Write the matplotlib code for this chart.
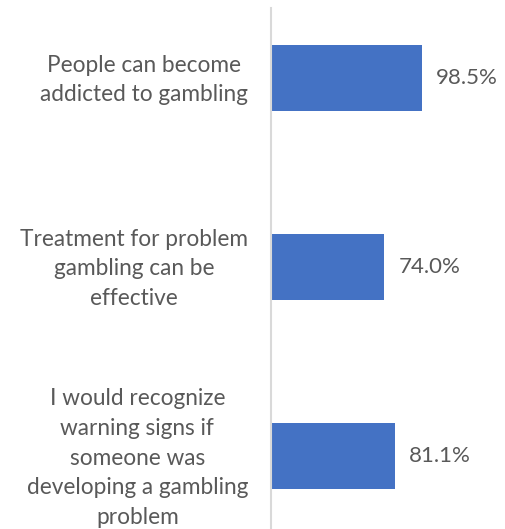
import matplotlib.pyplot as plt
from matplotlib.transforms import blended_transform_factory, offset_copy

statements = [
    'People can become\naddicted to gambling',
    'Treatment for problem\ngambling can be\neffective',
    'I would recognize\nwarning signs if\nsomeone was\ndeveloping a gambling\nproblem',
]
shares = [98.5, 74.0, 81.1]

plt.rcParams['font.family'] = ['Lato', 'DejaVu Sans']
text_color = '#595959'

fig = plt.figure(figsize=(5.06, 5.29), dpi=100)
ax = fig.add_axes([271 / 506, 0, 230 / 506, 521 / 529])

ypos = list(range(len(statements)))
bars = ax.barh(ypos, shares, height=0.35, color='#4472C4')
for bar, val in zip(bars, shares):
    ax.text(bar.get_width() + 9, bar.get_y() + bar.get_height() / 2,
            f'{val:.1f}%', va='center', ha='left', fontsize=16, color=text_color)

ax.set_xlim(0, 150)
ax.set_ylim(2.386, -0.37)

# category labels drawn as text left of the axis line, centred on each bar
label_trans = offset_copy(blended_transform_factory(ax.transAxes, ax.transData),
                          fig=fig, x=-23, y=-2, units='dots')
for y, s in zip(ypos, statements):
    ax.text(0, y, s, transform=label_trans, ha='right', va='center',
            multialignment='center', linespacing=1.52, fontsize=16.3,
            color=text_color)

ax.set_yticks([])
ax.set_xticks([])
for side in ['top', 'right', 'bottom']:
    ax.spines[side].set_visible(False)
ax.spines['left'].set_color('#D9D9D9')
ax.spines['left'].set_linewidth(1.5)

fig.savefig('out.png', dpi=100)
